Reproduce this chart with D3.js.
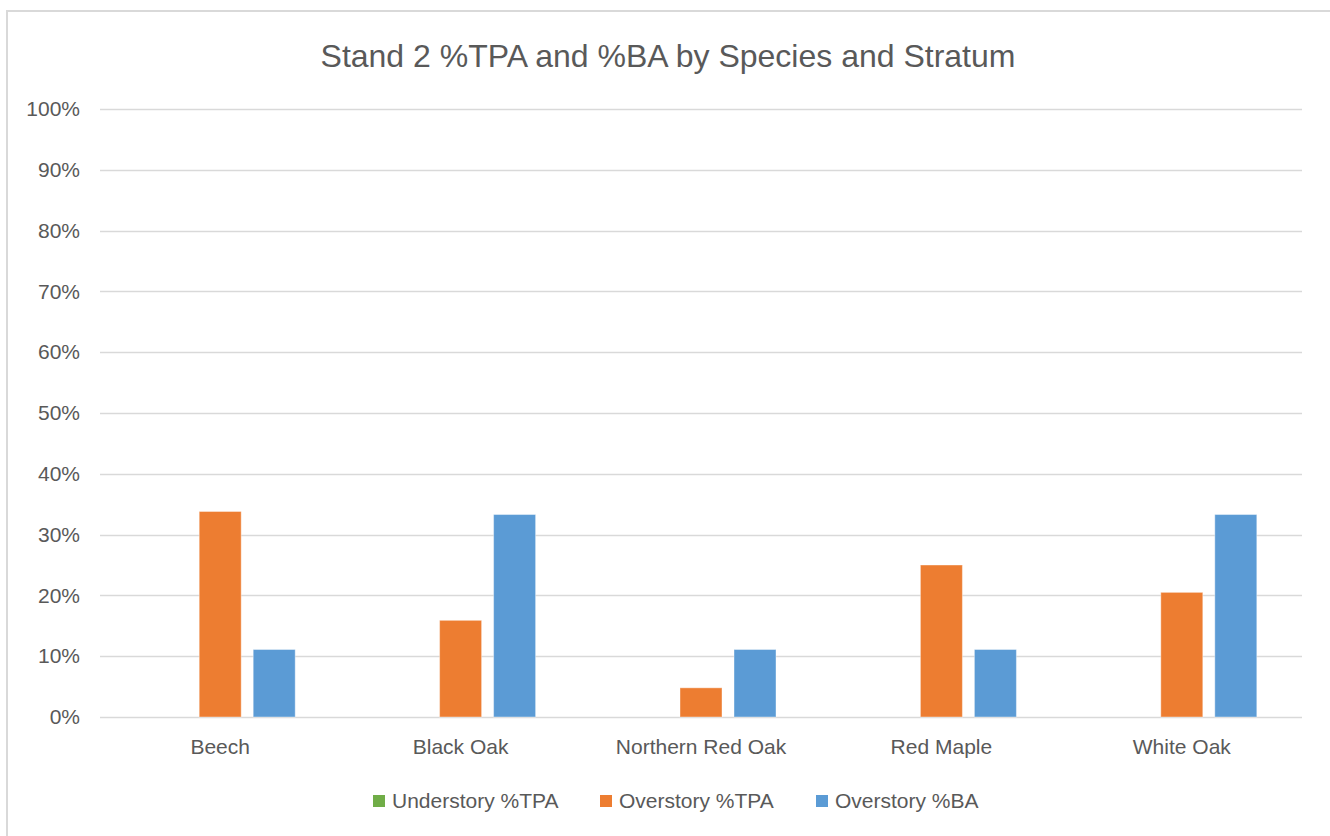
<!DOCTYPE html>
<html>
<head>
<meta charset="utf-8">
<script src="https://cdn.jsdelivr.net/npm/d3@7/dist/d3.min.js"></script>
<style>
  html, body { margin: 0; padding: 0; background: #fff; }
  svg { display: block; }
  text { font-family: "Liberation Sans", "DejaVu Sans", sans-serif; fill: #595959; }
</style>
</head>
<body>
<svg id="chart" width="1330" height="836"></svg>
<script>
const categories = ["Beech", "Black Oak", "Northern Red Oak", "Red Maple", "White Oak"];
const seriesNames = ["Understory %TPA", "Overstory %TPA", "Overstory %BA"];
const seriesColors = ["#70ad47", "#ed7d31", "#5b9bd5"];
const understoryTPA = [0, 0, 0, 0, 0];
const overstoryTPA = [0.338, 0.159, 0.048, 0.25, 0.205];
const overstoryBA = [0.111, 0.333, 0.111, 0.111, 0.333];
const yTicks = [0, 0.1, 0.2, 0.3, 0.4, 0.5, 0.6, 0.7, 0.8, 0.9, 1.0];
const title = "Stand 2 %TPA and %BA by Species and Stratum";

const seriesValues = [understoryTPA, overstoryTPA, overstoryBA];

const svg = d3.select("#chart");
const plot = { left: 100, right: 1302, top: 109, bottom: 717 };
const fontFam = '"Liberation Sans", sans-serif';

// chart border (top and left visible)
svg.append("rect")
  .attr("x", 7).attr("y", 11)
  .attr("width", 1340).attr("height", 840)
  .attr("fill", "#fff").attr("stroke", "#d9d9d9").attr("stroke-width", 2);

const y = d3.scaleLinear().domain([0, 1]).range([plot.bottom, plot.top]);
const x0 = d3.scaleBand().domain(categories).range([plot.left, plot.right]).paddingInner(0).paddingOuter(0);
const groupW = 150;
const x1 = d3.scaleBand().domain(seriesNames)
  .range([(x0.bandwidth() - groupW) / 2, (x0.bandwidth() + groupW) / 2])
  .paddingInner(12 / 54).paddingOuter(0);

// gridlines
svg.append("g").selectAll("line").data(yTicks).join("line")
  .attr("x1", plot.left).attr("x2", plot.right)
  .attr("y1", d => Math.round(y(d)) + 0.5).attr("y2", d => Math.round(y(d)) + 0.5)
  .attr("stroke", "#d9d9d9").attr("stroke-width", 1.5);

// y axis labels
const yAxis = d3.axisLeft(y).tickValues(yTicks).tickFormat(d3.format(".0%")).tickSize(0).tickPadding(0);
const gy = svg.append("g").attr("transform", `translate(80,0)`).call(yAxis);
gy.select(".domain").remove();
gy.selectAll("text").attr("font-size", 21).style("font-family", fontFam).attr("fill", "#595959");

// bars
const groups = svg.append("g").selectAll("g").data(categories).join("g")
  .attr("transform", d => `translate(${x0(d)},0)`);
groups.selectAll("rect")
  .data((c, i) => seriesNames.map((s, k) => ({ s, v: seriesValues[k][i], color: seriesColors[k] })))
  .join("rect")
  .attr("x", d => x1(d.s))
  .attr("width", x1.bandwidth())
  .attr("y", d => y(d.v))
  .attr("height", d => y(0) - y(d.v))
  .attr("fill", d => d.color)
  .attr("stroke", "#fff").attr("stroke-opacity", 0.4).attr("stroke-width", 1);

// x axis labels
const xAxis = d3.axisBottom(x0).tickSize(0).tickPadding(0);
const gx = svg.append("g").attr("transform", `translate(0,${plot.bottom + 22})`).call(xAxis);
gx.select(".domain").remove();
gx.selectAll("text").attr("font-size", 21).style("font-family", fontFam).attr("fill", "#595959").attr("dy", "0.7em");

// title
svg.append("text")
  .attr("x", 668).attr("y", 67)
  .attr("text-anchor", "middle")
  .attr("font-size", 32)
  .text(title);

// legend
const legendX = [373, 600, 816];
const lg = svg.append("g").selectAll("g").data(seriesNames).join("g")
  .attr("transform", (d, i) => `translate(${legendX[i]},801)`);
lg.append("rect").attr("x", 0).attr("y", -6).attr("width", 12).attr("height", 12)
  .attr("fill", (d, i) => seriesColors[i]);
lg.append("text").attr("x", 19).attr("y", 0).attr("dy", "0.35em")
  .attr("font-size", 21).text(d => d);
</script>
</body>
</html>
